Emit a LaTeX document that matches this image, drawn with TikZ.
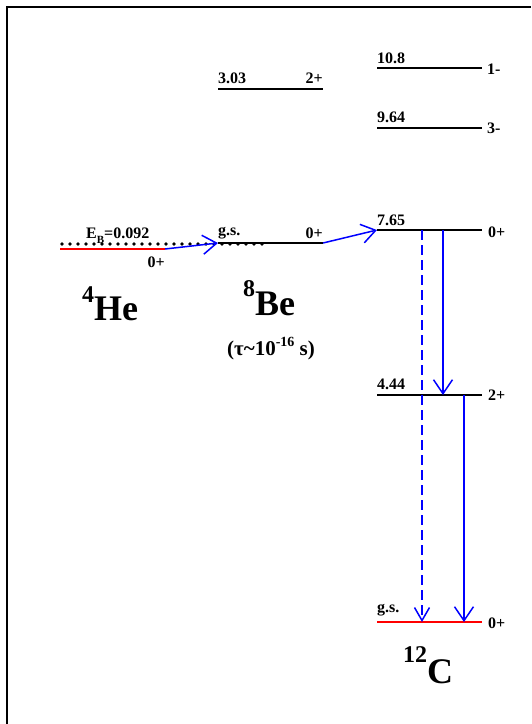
\documentclass[tikz,border=0pt]{standalone}
\usepackage{fontspec}
\setmainfont{Liberation Serif}[BoldFont={Liberation Serif Bold}]
\usetikzlibrary{arrows.meta}
\begin{document}
\begin{tikzpicture}[x=1pt,y=-1pt,
  lvl/.style={line width=1.6pt,black},
  gslvl/.style={line width=1.6pt,red},
  lbl/.style={inner sep=0,font=\fontsize{16}{16}\selectfont\bfseries},
  big/.style={inner sep=0,font=\fontsize{36}{36}\selectfont\bfseries},
  tr/.style={blue,line width=1.5pt,-{Straight Barb[length=14pt,width=19pt]}},
  trd/.style={blue,line width=1.5pt,dash pattern=on 10pt off 5pt,-{Straight Barb[length=13pt,width=15pt]}},
  dotline/.style={line width=3.6pt,line cap=round,dash pattern=on 0pt off 8pt}]
\useasboundingbox (0,0) rectangle (531,724);
% frame
\draw[line width=1.5pt] (7,724) -- (7,7) -- (531,7);

% coordinates
\coordinate (heL) at (60,249);   \coordinate (heR) at (165,249);
\coordinate (beL) at (218,243);  \coordinate (beR) at (323,243);
\coordinate (b303L) at (218,89); \coordinate (b303R) at (323,89);
\coordinate (c108L) at (377,68); \coordinate (c108R) at (482,68);
\coordinate (c964L) at (377,128); \coordinate (c964R) at (482,128);
\coordinate (c765L) at (377,230); \coordinate (c765R) at (482,230);
\coordinate (c444L) at (377,395); \coordinate (c444R) at (482,395);
\coordinate (cgsL) at (377,622); \coordinate (cgsR) at (482,622);
\coordinate (dotL) at (62,244); \coordinate (dotR) at (264,244);
\coordinate (t1a) at (443,230); \coordinate (t1b) at (443,395);
\coordinate (t2a) at (464,395); \coordinate (t2b) at (464,622);
\coordinate (t3a) at (422,230); \coordinate (t3b) at (422,622);

% levels
\draw[gslvl] (heL) -- (heR);
\draw[lvl] (beL) -- (beR);
\draw[lvl] (b303L) -- (b303R);
\draw[lvl] (c108L) -- (c108R);
\draw[lvl] (c964L) -- (c964R);
\draw[lvl] (c765L) -- (c765R);
\draw[lvl] (c444L) -- (c444R);
\draw[gslvl] (cgsL) -- (cgsR);
\draw[dotline] (dotL) -- (dotR);

% transitions
\draw[tr] (heR) -- (beL);
\draw[tr] (beR) -- (c765L);
\draw[tr] (t1a) -- (t1b);
\draw[tr] (t2a) -- (t2b);
\draw[trd] (t3a) -- (t3b);

% labels
\node[lbl,anchor=base west] (l303) at (218,83) {3.03};
\node[lbl,anchor=base east] (j303) at (323,83) {2+};
\node[lbl,anchor=base west] (l108) at (377,63) {10.8};
\node[lbl,anchor=base west] (j108) at (487,74) {1-};
\node[lbl,anchor=base west] (l964) at (377,122) {9.64};
\node[lbl,anchor=base west] (j964) at (487,133) {3-};
\node[lbl,anchor=base west] (l765) at (377,225) {7.65};
\node[lbl,anchor=base west] (j765) at (488,237) {0+};
\node[lbl,anchor=base west] (l444) at (377,389) {4.44};
\node[lbl,anchor=base west] (j444) at (488,400) {2+};
\node[lbl,anchor=base west] (lgs) at (377,612) {g.s.};
\node[lbl,anchor=base west] (jgs) at (488,628) {0+};
\node[lbl,anchor=base west] (lbe) at (218,235) {g.s.};
\node[lbl,anchor=base east] (jbe) at (323,238) {0+};
\node[lbl,anchor=base west] (leb) at (86,238) {E\raisebox{-5pt}{\fontsize{11}{11}\selectfont B}=0.092};
\node[lbl,anchor=base east] (jhe) at (165,267) {0+};

% nuclei
\node[big,anchor=base west] (he) at (82,320) {\raisebox{18pt}{\fontsize{24}{24}\selectfont 4}He};
\node[big,anchor=base west] (be) at (243,315) {\raisebox{19pt}{\fontsize{24}{24}\selectfont 8}Be};
\node[big,anchor=base west] (c12) at (403,683) {\raisebox{21pt}{\fontsize{24}{24}\selectfont 12}C};
\node[inner sep=0,anchor=base,font=\fontsize{21}{21}\selectfont\bfseries] (tau) at (271,355) {(τ\textasciitilde 10\raisebox{9pt}{\fontsize{14}{14}\selectfont -16} s)};
\end{tikzpicture}
\end{document}
